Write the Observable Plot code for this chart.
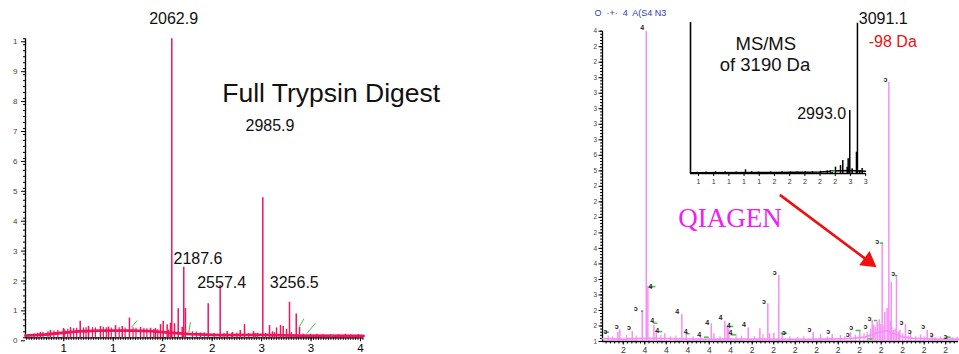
<!DOCTYPE html>
<html><head><meta charset="utf-8">
<script src="https://cdn.jsdelivr.net/npm/d3@7"></script>
<script src="https://cdn.jsdelivr.net/npm/@observablehq/plot@0.6"></script>
<style>
body{margin:0;background:#fff;}
#wrap{position:relative;width:959px;height:354px;overflow:hidden;background:#fff;}
</style></head><body><div id="wrap"></div>
<script>
// ---------- LEFT PANEL: Full Trypsin Digest ----------
const leftXTicks = [1000,1500,2000,2500,3000,3500,4000];
const leftXTickLabels = ["1","1","2","2","3","3","4"];
const leftYTicks = [0,0.1,0.2,0.3,0.4,0.5,0.6,0.7,0.8,0.9,1];
const leftYTickLabels = ["0","1","2","3","4","5","6","7","8","9","1"];
const leftBaseMass = [613,815,967,1118,1371,1674,1877,2028,2281,2584,2988,3393,4030];
const leftBaseInt  = [0.007,0.011,0.016,0.021,0.024,0.024,0.022,0.018,0.012,0.009,0.01,0.007,0.006];
const leftPeakMass = [2092,2213,2230,2157,2460,2581,3012,3282,3350,3383,2827,2784,3080,3191,3218,1166,1664,1523,2005,1978,2045,2079,2119,2197,2652,2918,997,764,865,1068,1250,1371,1452,1591,1776,1877,1927,2382,2706,2938,3110,3151,3252,3494,3697,3848,3980];
const leftPeakInt  = [1.0,0.236,0.098,0.097,0.114,0.175,0.468,0.119,0.080,0.035,0.044,0.024,0.041,0.041,0.038,0.055,0.066,0.041,0.055,0.044,0.044,0.049,0.047,0.035,0.021,0.021,0.031,0.018,0.025,0.034,0.038,0.038,0.036,0.038,0.035,0.032,0.031,0.016,0.018,0.014,0.02,0.033,0.028,0.012,0.01,0.012,0.011];
const leftNoiseMass = [700,735,790,840,900,940,1010,1040,1100,1130,1200,1225,1290,1320,1400,1430,1480,1560,1620,1700,1730,1810,1840,1910,1950,2060,2300,2340,2420,2520,2620,2700,2750,2870,2960,3040,3130,3300,3420,3560,3620,3780,3900];
const leftNoiseInt  = [0.013,0.015,0.018,0.02,0.023,0.025,0.027,0.029,0.031,0.032,0.033,0.034,0.034,0.033,0.035,0.034,0.033,0.034,0.033,0.034,0.032,0.031,0.03,0.028,0.027,0.026,0.02,0.019,0.017,0.015,0.015,0.015,0.016,0.014,0.015,0.015,0.017,0.018,0.013,0.012,0.011,0.01,0.01];
const leftGreenM1 = [1685,2264,3383,3454,3707];
const leftGreenI1 = [0.0355,0.0187,0.0378,0.0134,0.004];
const leftGreenM2 = [1742,2281,3427,3545,3727];
const leftGreenI2 = [0.058,0.052,0.0635,0.0488,0.014];
const leftLabelText = ["2062.9","2985.9","2187.6","2557.4","3256.5"];
const leftLabelMass = [1863,2837,2109,2349,3083];
const leftLabelInt  = [1.050,0.693,0.2475,0.167,0.167];
const leftTitle = "Full Trypsin Digest";
const leftTitleMass = 2602, leftTitleInt = 0.788;

// ---------- RIGHT PANEL: QIAGEN ----------
const rightXTicks = [800,1000,1200,1400,1600,1800,2000,2200,2400,2600,2800,3000,3200,3400,3600,3800];
const rightXTickLabels = ["2","4","4","4","4","4","2","2","2","2","2","2","2","2","2","2"];
const rightYTicks = [0,1,2,3,4,5,6,7,8,9,10,11,12,13,14,15,16,17,18,19,20];
const rightYTickLabels = ["1","2","2","3","3","4","4","2","2","2","2","5","6","3","3","3","3","3","2","2","4"];
const rightBaseMass = [607,800,1000,1500,2000,2500,2900,3050,3120,3180,3250,3320,3400,3500,3700,3919];
const rightBaseInt  = [0.18,0.15,0.2,0.15,0.15,0.13,0.18,0.28,0.45,0.6,0.7,0.5,0.3,0.2,0.15,0.15];
const rightPeakMass = [1014,1029,977,768,750,884,1085,1107,1187,1345,1386,1619,1643,1745,1767,1782,1963,2071,2145,2161,2247,2201,2279,2567,2635,2744,2821,2914,3001,3131,3163,3181,3209,3233,3271,3286,3317,3342,3373,3426,3472,3566,3628,3674,3814,3907,3293,3255,3116];
const rightPeakInt  = [20,3.54,2.0,0.75,0.6,0.64,1.03,0.71,0.5,1.74,0.6,1.14,0.5,1.31,0.97,0.82,0.88,0.82,2.43,0.5,4.25,0.53,0.5,0.58,0.45,0.45,0.39,0.58,0.71,1.03,1.24,1.4,6.34,1.89,16.71,1.29,0.71,4.25,0.71,1.1,0.5,0.41,0.71,0.41,0.32,0.28,3.82,2.13,1.35];
const rightNoiseMass = [660,700,830,920,1150,1240,1290,1450,1520,1700,1850,1900,2020,2100,2350,2420,2480,2700,2860,2960,3040,3070,3100,3145,3195,3225,3300,3330,3360,3400,3450,3520,3600,3700,3750,3860];
const rightNoiseInt  = [0.35,0.3,0.4,0.35,0.4,0.3,0.35,0.3,0.35,0.3,0.3,0.35,0.3,0.45,0.3,0.25,0.3,0.3,0.3,0.4,0.5,0.6,0.8,0.9,1.1,1.0,0.9,0.8,0.6,0.5,0.35,0.3,0.3,0.25,0.3,0.25];
const rightMarkMass = [635,738,852,917,977,1054,1070,1116,1302,1380,1507,1581,1705,1782,1798,1922,2108,2210,2294,2533,2707,2889,2921,3054,3091,3163,3240,3312,3389,3466,3591,3668,3798];
const rightMarkInt  = [0.64,0.97,0.86,2.1,20.2,3.56,1.31,0.71,1.89,0.6,0.45,1.24,1.5,1.03,0.58,1.08,2.58,4.4,0.56,0.75,0.64,0.43,0.88,0.92,1.46,6.46,16.9,4.36,1.24,0.6,0.92,0.43,0.32];
const rightMarkGlyph = ["ɔ","ɔ","ɔ","ɔ","4","4","4","4","4","4","4","4","4","4","4","4","ɔ","ɔ","ɔ","ɔ","ɔ","ɔ","ɔ","ɔ","ɔ","ɔ","ɔ","ɔ","ɔ","ɔ","ɔ","ɔ","ɔ"];
const rightGreenM1 = [620,965,1038,1079,1122,1386,1550,1767,1798,2263,2961,3131,3187,3327,3798,3070];
const rightGreenM2 = [667,986,1100,1116,1163,1419,1596,1823,1854,2325,3007,3163,3218,3349,3845,3116];
const rightGreenInt = [0.6,1.95,3.54,1.18,0.64,0.5,0.28,0.97,0.43,0.53,0.71,1.35,6.34,4.25,0.28,0.17];
const arrowStart = [2257, 9.45], arrowHead = [3081, 5.18];
const brandText = "QIAGEN", brandMass = 1312, brandInt = 7.37;
const headerText = "O  ·+·  4  A(S4 N3", headerMass = 533, headerInt = 20.95;

// ---------- INSET: MS/MS ----------
const insetXTicks = [1000,1200,1400,1600,1800,2000,2200,2400,2600,2800,3000,3200];
const insetXTickLabels = ["1","1","1","1","1","2","2","2","2","2","3","3"];
const insetBaseMass = [895,2000,2600,2850,3000,3198];
const insetBaseInt  = [0.005,0.007,0.01,0.018,0.02,0.015];
const insetPeakMass = [3092,2991,3079,2970,2899,2869,2803,3123,3023,2760,2957,3154,1224,1496,1619,1790,2211,2408,2605,2694,2737,983,1100,1350,1700,1950,2100,2300,2500];
const insetPeakInt  = [0.995,0.417,0.141,0.097,0.086,0.053,0.042,0.02,0.031,0.02,0.042,0.033,0.012,0.01,0.025,0.01,0.01,0.012,0.015,0.017,0.02,0.008,0.01,0.012,0.012,0.01,0.012,0.01,0.012];
const insetPeakText = ["3091.1","2993.0"], insetPeakTextMass = [3110,2299], insetPeakTextInt = [0.991,0.358];
const insetLossText = "-98 Da", insetLossMass = 3241, insetLossInt = 0.836;
const insetTitleText = ["MS/MS","of 3190 Da"], insetTitleMass = [1487,1280], insetTitleInt = [0.815,0.677];

// ---------- helpers ----------
const RED = "#f0145a", PINK = "#f78ef7", GREEN = "#3cc43c";
const SANS = "Liberation Sans, Arial, sans-serif";
const tbl = (xs, ys) => xs.map((m, i) => ({m, v: ys[i]}));
const lab = (ticks, labels) => { const mp = new Map(ticks.map((t, i) => [t, labels[i]])); return d => mp.get(d) ?? ""; };
const blank = () => "";
const svgStyle = (l, t) => ({position: "absolute", left: l + "px", top: t + "px", maxWidth: "none", overflow: "visible", background: "transparent", fontFamily: SANS});
const wrap = document.getElementById("wrap");

// ---------- left plot ----------
const left = Plot.plot({
  width: 480, height: 354, marginLeft: 25, marginRight: 117, marginTop: 38.3, marginBottom: 16.7,
  x: {domain: [613, 4030]}, y: {domain: [0, 1]},
  style: svgStyle(0, 0),
  marks: [
    Plot.axisY({ticks: d3.range(0, 1.0001, 0.02), tickSize: 2, tickFormat: blank}),
    Plot.axisY({ticks: leftYTicks, tickSize: 4, tickPadding: 4, tickFormat: lab(leftYTicks, leftYTickLabels), fontSize: 8, fill: "#444", dy: 3}),
    Plot.axisX({ticks: d3.range(625, 4030, 25), tickSize: 2.5, tickFormat: blank}),
    Plot.axisX({ticks: leftXTicks, tickSize: 4, tickPadding: 2.5, tickFormat: lab(leftXTicks, leftXTickLabels), fontSize: 11.5}),
    Plot.ruleX([613], {strokeWidth: 1.3}),
    Plot.ruleY([0], {strokeWidth: 1.3}),
    Plot.line(tbl(leftBaseMass, leftBaseInt), {x: "m", y: "v", stroke: RED, strokeWidth: 2.8}),
    Plot.ruleX(tbl(leftNoiseMass, leftNoiseInt), {x: "m", y1: 0, y2: "v", stroke: RED, strokeWidth: 1.2}),
    Plot.ruleX(tbl(leftPeakMass, leftPeakInt), {x: "m", y1: 0, y2: "v", stroke: RED, strokeWidth: 1.5}),
    Plot.link(leftGreenM1.map((m, i) => ({m1: m, v1: leftGreenI1[i], m2: leftGreenM2[i], v2: leftGreenI2[i]})),
      {x1: "m1", y1: "v1", x2: "m2", y2: "v2", stroke: GREEN, strokeWidth: 1}),
    Plot.text(leftLabelText.map((t, i) => ({t, m: leftLabelMass[i], v: leftLabelInt[i]})),
      {x: "m", y: "v", text: "t", textAnchor: "start", lineAnchor: "bottom", fontSize: 16, fill: "#111"}),
    Plot.text([{t: leftTitle, m: leftTitleMass, v: leftTitleInt}],
      {x: "m", y: "v", text: "t", textAnchor: "start", lineAnchor: "bottom", fontSize: 26.5, fill: "#111"})
  ]
});
wrap.appendChild(left);

// ---------- right plot ----------
const right = Plot.plot({
  width: 399, height: 354, marginLeft: 42, marginRight: 1, marginTop: 30.7, marginBottom: 13,
  x: {domain: [607, 3919]}, y: {domain: [0, 20]},
  style: svgStyle(560, 0),
  marks: [
    Plot.axisY({ticks: d3.range(0, 20.001, 0.2), tickSize: 2, tickFormat: blank}),
    Plot.axisY({ticks: rightYTicks, tickSize: 3.5, tickPadding: 2, tickFormat: lab(rightYTicks, rightYTickLabels), fontSize: 6.5, fill: "#444"}),
    Plot.axisX({ticks: d3.range(640, 3919, 40), tickSize: 2.5, tickFormat: blank}),
    Plot.axisX({ticks: rightXTicks, tickSize: 3.5, tickPadding: 1.5, tickFormat: lab(rightXTicks, rightXTickLabels), fontSize: 8.5, fill: "#333"}),
    Plot.ruleX([607], {strokeWidth: 1.3}),
    Plot.ruleY([0], {strokeWidth: 1.3}),
    Plot.line(tbl(rightBaseMass, rightBaseInt), {x: "m", y: "v", stroke: PINK, strokeWidth: 1.8}),
    Plot.ruleX(tbl(rightNoiseMass, rightNoiseInt), {x: "m", y1: 0, y2: "v", stroke: PINK, strokeWidth: 1.2}),
    Plot.ruleX(tbl(rightPeakMass, rightPeakInt), {x: "m", y1: 0, y2: "v", stroke: PINK, strokeWidth: 1.5}),
    Plot.link(rightGreenM1.map((m, i) => ({m1: m, m2: rightGreenM2[i], v: rightGreenInt[i]})),
      {x1: "m1", x2: "m2", y1: "v", y2: "v", stroke: GREEN, strokeWidth: 1.5}),
    Plot.text(rightMarkMass.map((m, i) => ({m, v: rightMarkInt[i], t: rightMarkGlyph[i]})),
      {x: "m", y: "v", text: "t", fontSize: 7, fontWeight: "bold", fill: "#222"}),
    Plot.link([{a: arrowStart[0], b: arrowStart[1], c: arrowHead[0], d: arrowHead[1]}],
      {x1: "a", y1: "b", x2: "c", y2: "d", stroke: "#ee1111", strokeWidth: 2.6}),
    Plot.dot([{m: arrowHead[0], v: arrowHead[1]}], {x: "m", y: "v", symbol: "triangle", r: 6.5, fill: "#ee1111", stroke: "none", rotate: 126.5}),
    Plot.text([{t: brandText, m: brandMass, v: brandInt}],
      {x: "m", y: "v", text: "t", textAnchor: "start", lineAnchor: "bottom", fontSize: 27, fill: "#f020f0", fontFamily: "Liberation Serif, Times New Roman, serif"}),
    Plot.text([{t: headerText, m: headerMass, v: headerInt}],
      {x: "m", y: "v", text: "t", textAnchor: "start", lineAnchor: "bottom", fontSize: 9, fill: "#2a3cb0"})
  ]
});
wrap.appendChild(right);

// ---------- inset plot ----------
const inset = Plot.plot({
  width: 250, height: 200, marginLeft: 10, marginRight: 65, marginTop: 22, marginBottom: 27,
  x: {domain: [895, 3198]}, y: {domain: [0, 1], axis: null},
  style: svgStyle(680, 0),
  marks: [
    Plot.axisX({ticks: insetXTicks, tickSize: 3, tickPadding: 3, tickFormat: lab(insetXTicks, insetXTickLabels), fontSize: 7, fill: "#333"}),
    Plot.ruleX([895], {strokeWidth: 1.6}),
    Plot.ruleY([0], {strokeWidth: 1.6}),
    Plot.line(tbl(insetBaseMass, insetBaseInt), {x: "m", y: "v", stroke: "#000", strokeWidth: 1.6}),
    Plot.ruleX(tbl(insetPeakMass, insetPeakInt), {x: "m", y1: 0, y2: "v", stroke: "#000", strokeWidth: 1.5}),
    Plot.link([{m1: 2740, m2: 2800, v: 0.015}], {x1: "m1", x2: "m2", y1: "v", y2: "v", stroke: GREEN, strokeWidth: 1.5}),
    Plot.text(insetPeakText.map((t, i) => ({t, m: insetPeakTextMass[i], v: insetPeakTextInt[i]})),
      {x: "m", y: "v", text: "t", textAnchor: "start", lineAnchor: "bottom", fontSize: 16, fill: "#111"}),
    Plot.text([{t: insetLossText, m: insetLossMass, v: insetLossInt}],
      {x: "m", y: "v", text: "t", textAnchor: "start", lineAnchor: "bottom", fontSize: 16, fill: "#ee1111"}),
    Plot.text(insetTitleText.map((t, i) => ({t, m: insetTitleMass[i], v: insetTitleInt[i]})),
      {x: "m", y: "v", text: "t", textAnchor: "start", lineAnchor: "bottom", fontSize: 18.5, fill: "#111"})
  ]
});
wrap.appendChild(inset);
</script></body></html>
